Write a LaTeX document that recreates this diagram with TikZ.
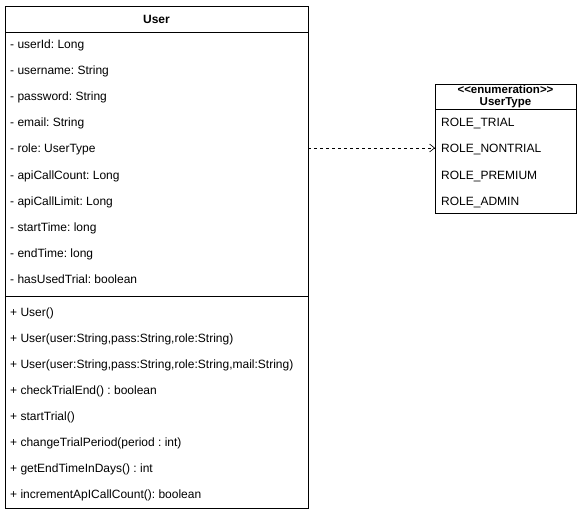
\documentclass[tikz,border=0pt]{standalone}
\usepackage{fontspec}
\setmainfont{Liberation Sans}
\usetikzlibrary{arrows.meta}
\frenchspacing
\begin{document}
\begin{tikzpicture}[x=1pt,y=-1pt,
  box/.style={draw=black,line width=0.8pt,fill=white},
  sep/.style={draw=black,line width=0.8pt},
  item/.style={anchor=base west,inner sep=0pt,font=\fontsize{12}{14}\selectfont},
  head/.style={anchor=center,inner sep=0pt,font=\fontsize{12}{14}\selectfont\bfseries,align=center},
  dep/.style={draw=black,line width=0.6pt,dashed,dash pattern=on 3pt off 3pt,-{Straight Barb[length=5pt,width=8pt]}}]
\useasboundingbox (0,0) rectangle (581,516);
% User class
\node[box,minimum width=303pt,minimum height=502pt,inner sep=0pt,anchor=north west] (user) at (5,6) {};
\node[head] (userhead) at (156.5,19) {User};
\draw[sep] (5,32) -- (308,32);
\draw[sep] (5,296) -- (308,296);
\node[item] (a1) at (10,49) {- userId: Long};
\node[item] (a2) at (10,75) {- username: String};
\node[item] (a3) at (10,101) {- password: String};
\node[item] (a4) at (10,127) {- email: String};
\node[item] (a5) at (10,153) {- role: UserType};
\node[item] (a6) at (10,179) {- apiCallCount: Long};
\node[item] (a7) at (10,205) {- apiCallLimit: Long};
\node[item] (a8) at (10,231) {- startTime: long};
\node[item] (a9) at (10,257) {- endTime: long};
\node[item] (a10) at (10,283) {- hasUsedTrial: boolean};
\node[item] (m1) at (10,316) {+ User()};
\node[item] (m2) at (10,342) {+ User(user:String,pass:String,role:String)};
\node[item] (m3) at (10,368) {+ User(user:String,pass:String,role:String,mail:String)};
\node[item] (m4) at (10,394) {+ checkTrialEnd() : boolean};
\node[item] (m5) at (10,420) {+ startTrial()};
\node[item] (m6) at (10,446) {+ changeTrialPeriod(period : int)};
\node[item] (m7) at (10,472) {+ getEndTimeInDays() : int};
\node[item] (m8) at (10,498) {+ incrementApICallCount(): boolean};
% Enum
\node[box,minimum width=141pt,minimum height=129pt,inner sep=0pt,anchor=north west] (enum) at (435,84) {};
\node[head,font=\fontsize{11.5}{11.5}\selectfont\bfseries] (enumhead) at (505.5,96.5) {{<}{<}enumeration{>}{>}\\UserType};
\draw[sep] (435,109) -- (576,109);
\node[item] (e1) at (441,127) {ROLE\_TRIAL};
\node[item] (e2) at (441,153) {ROLE\_NONTRIAL};
\node[item] (e3) at (441,179) {ROLE\_PREMIUM};
\node[item] (e4) at (441,205) {ROLE\_ADMIN};
\coordinate (src) at (308,148);
\coordinate (dst) at (435,148);
\draw[dep] (src) -- (dst);
\end{tikzpicture}
\end{document}
